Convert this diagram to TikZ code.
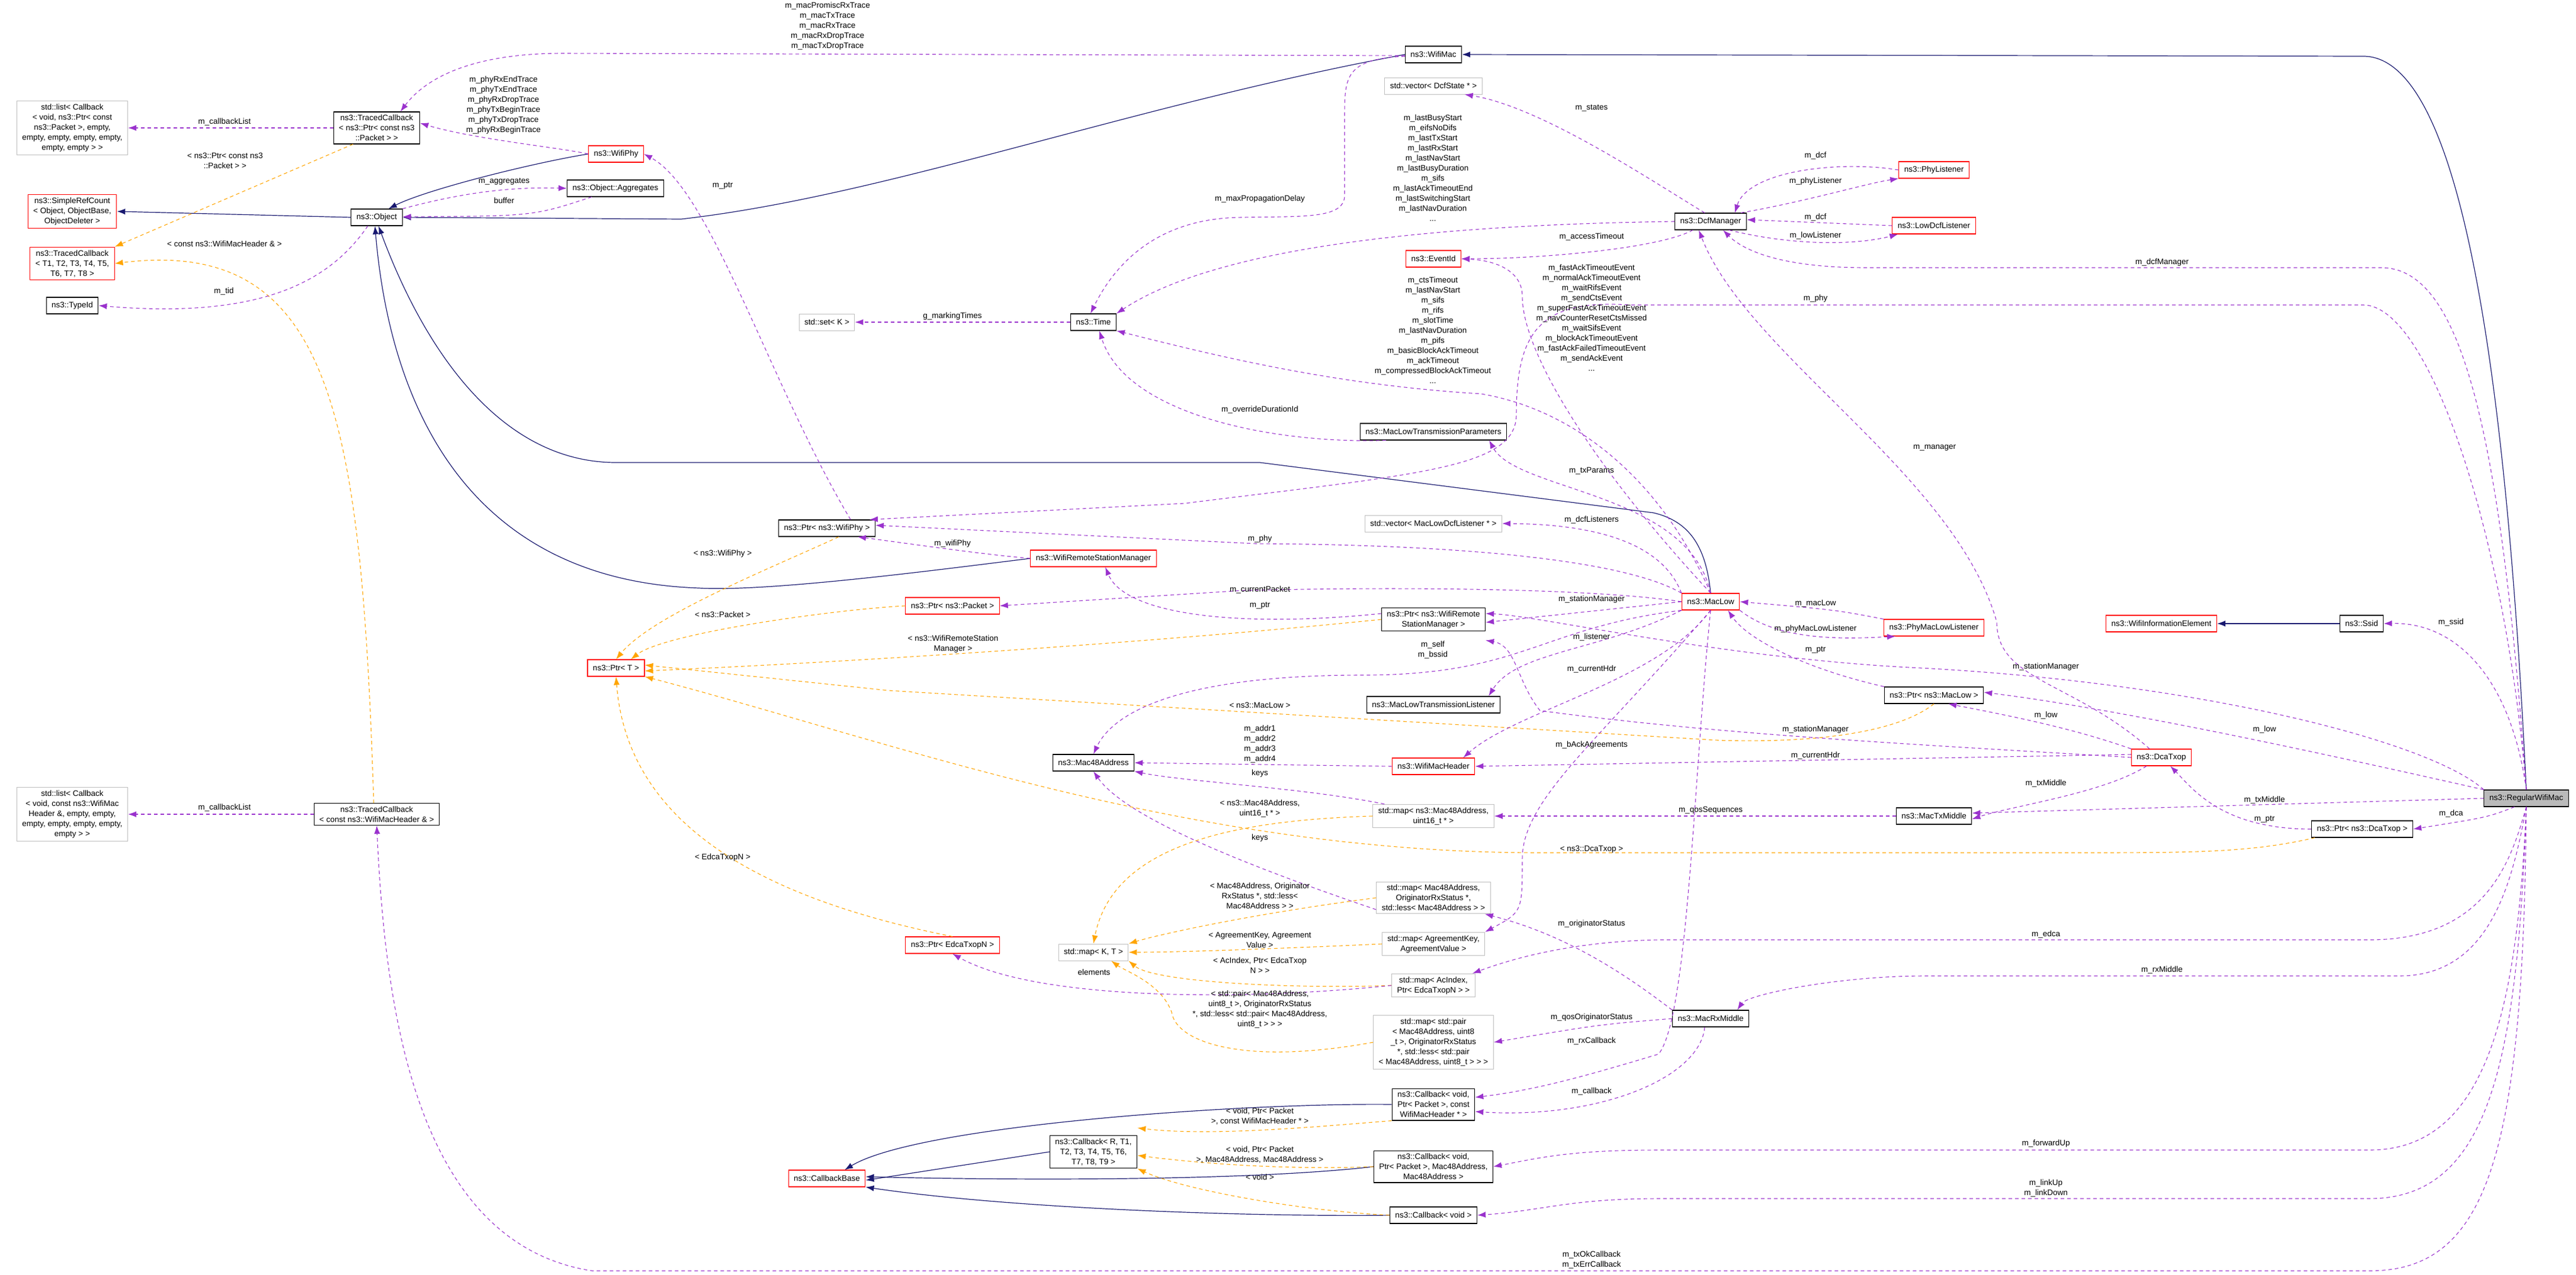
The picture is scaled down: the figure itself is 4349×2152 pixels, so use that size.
\documentclass[tikz,border=0pt]{standalone}
\usepackage{fontspec}
\setmainfont{Liberation Sans}
\usetikzlibrary{arrows.meta}
\definecolor{pur}{HTML}{9A32CD}
\definecolor{nav}{HTML}{191970}
\definecolor{org}{HTML}{FFA500}
\begin{document}
\begin{tikzpicture}[x=1pt,y=-1pt,
 every node/.style={font=\fontsize{13.5}{17}\selectfont},
 box/.style={draw,fill=white,align=center,inner xsep=9pt,inner ysep=5pt,minimum height=28pt,line width=1.1pt},
 bk/.style={box,draw=black},
 rd/.style={box,draw=red},
 gy/.style={box,draw=black!25,line width=1pt},
 lbl/.style={align=center,inner sep=1pt},
 inh/.style={draw=nav,line width=1.2pt,-{Latex[length=14pt,width=10pt]}},
 use/.style={draw=pur,line width=1.1pt,dash pattern=on 6pt off 5pt,-{Latex[length=14pt,width=10pt]}},
 tmpl/.style={draw=org,line width=1.1pt,dash pattern=on 6pt off 5pt,-{Latex[length=14pt,width=10pt]}}]
\useasboundingbox[fill=white] (0,0) rectangle (4349,2152);
% nodes
\node[gy] (listTop) at (122,216) {std::list< Callback\\< void, ns3::Ptr< const\\ ns3::Packet >, empty,\\ empty, empty, empty, empty,\\ empty, empty > >};
\node[bk] (tcPkt) at (636,216) {ns3::TracedCallback\\< ns3::Ptr< const ns3\\::Packet > >};
\node[rd] (wifiPhy) at (1040,260) {ns3::WifiPhy};
\node[bk] (aggregates) at (1039,318) {ns3::Object::Aggregates};
\node[rd] (simpleRef) at (122,357) {ns3::SimpleRefCount\\< Object, ObjectBase,\\ ObjectDeleter >};
\node[bk] (object) at (636,367) {ns3::Object};
\node[rd] (tcT) at (122,445) {ns3::TracedCallback\\< T1, T2, T3, T4, T5,\\ T6, T7, T8 >};
\node[bk] (typeId) at (122,516) {ns3::TypeId};
\node[gy] (setK) at (1396,544) {std::set< K >};
\node[bk] (ptrWifiPhy) at (1396,892) {ns3::Ptr< ns3::WifiPhy >};
\node[rd] (ptrT) at (1040,1128) {ns3::Ptr< T >};
\node[gy] (listBot) at (122,1375) {std::list< Callback\\< void, const ns3::WifiMac\\Header \&, empty, empty,\\ empty, empty, empty, empty,\\ empty > >};
\node[bk] (tcHdr) at (636,1375) {ns3::TracedCallback\\< const ns3::WifiMacHeader \& >};
\node[rd] (callbackBase) at (1396,1990) {ns3::CallbackBase};
\node[bk] (wifiMac) at (2420,92) {ns3::WifiMac};
\node[gy] (vecDcfState) at (2420,145) {std::vector< DcfState * >};
\node[bk] (dcfManager) at (2888,374) {ns3::DcfManager};
\node[rd] (eventId) at (2420,437) {ns3::EventId};
\node[bk] (time) at (1846,544) {ns3::Time};
\node[bk] (macLowTxParams) at (2420,729) {ns3::MacLowTransmissionParameters};
\node[gy] (vecListener) at (2420,884) {std::vector< MacLowDcfListener * >};
\node[rd] (wifiRSM) at (1846,943) {ns3::WifiRemoteStationManager};
\node[rd] (ptrPacket) at (1608,1023) {ns3::Ptr< ns3::Packet >};
\node[rd] (macLow) at (2888,1016) {ns3::MacLow};
\node[bk] (ptrRSM) at (2420,1046) {ns3::Ptr< ns3::WifiRemote\\StationManager >};
\node[bk] (macLowTxListener) at (2420,1190) {ns3::MacLowTransmissionListener};
\node[bk] (mac48) at (1846,1288) {ns3::Mac48Address};
\node[rd] (wifiMacHeader) at (2420,1294) {ns3::WifiMacHeader};
\node[gy] (mapMacU16) at (2420,1378) {std::map< ns3::Mac48Address,\\uint16\_t * >};
\node[gy] (mapMacOrig) at (2420,1516) {std::map< Mac48Address,\\OriginatorRxStatus *,\\std::less< Mac48Address > >};
\node[rd] (ptrEdca) at (1608,1596) {ns3::Ptr< EdcaTxopN >};
\node[gy] (mapKT) at (1846,1608) {std::map< K, T >};
\node[gy] (mapAgree) at (2420,1594) {std::map< AgreementKey,\\AgreementValue >};
\node[gy] (mapAc) at (2420,1664) {std::map< AcIndex,\\Ptr< EdcaTxopN > >};
\node[gy] (mapPair) at (2420,1760) {std::map< std::pair\\< Mac48Address, uint8\\\_t >, OriginatorRxStatus\\ *, std::less< std::pair\\< Mac48Address, uint8\_t > > >};
\node[bk] (macRxMiddle) at (2888,1720) {ns3::MacRxMiddle};
\node[bk] (cbHdr) at (2420,1865) {ns3::Callback< void,\\Ptr< Packet >, const\\WifiMacHeader * >};
\node[bk] (cbT) at (1846,1945) {ns3::Callback< R, T1,\\T2, T3, T4, T5, T6,\\T7, T8, T9 >};
\node[bk] (cbMac) at (2420,1970) {ns3::Callback< void,\\Ptr< Packet >, Mac48Address,\\Mac48Address >};
\node[bk] (cbVoid) at (2420,2052) {ns3::Callback< void >};
\node[rd] (phyListener) at (3265,287) {ns3::PhyListener};
\node[rd] (lowDcf) at (3265,381) {ns3::LowDcfListener};
\node[rd] (phyMacLowListener) at (3265,1060) {ns3::PhyMacLowListener};
\node[rd] (wifiInfo) at (3649,1053) {ns3::WifiInformationElement};
\node[bk] (ssid) at (3987,1053) {ns3::Ssid};
\node[bk] (ptrMacLow) at (3265,1174) {ns3::Ptr< ns3::MacLow >};
\node[rd] (dcaTxop) at (3649,1279) {ns3::DcaTxop};
\node[bk] (macTxMiddle) at (3265,1378) {ns3::MacTxMiddle};
\node[bk,fill=black!27] (regWifiMac) at (4265,1348) {ns3::RegularWifiMac};
\node[bk] (ptrDcaTxop) at (3988,1400) {ns3::Ptr< ns3::DcaTxop >};
% inheritance
\draw[inh] (wifiPhy.west) .. controls (900,275) and (720,320) .. ([xshift=20pt]object.north);
\draw[inh] (wifiMac.west) .. controls (1900,180) and (1500,330) .. (1150,370) -- (object.east);
\draw[inh] (regWifiMac.north) .. controls (4230,600) and (4150,95) .. (3990,95) -- (wifiMac.east);
\draw[inh] (macLow.north) .. controls (2880,920) and (2850,880) .. (2792,866) -- (2127,781) -- (1040,781) .. controls (850,781) and (720,600) .. ([xshift=3pt]object.south);
\draw[inh] (wifiRSM.west) .. controls (1600,960) and (1300,1000) .. (1180,993) .. controls (800,980) and (660,700) .. ([xshift=-3pt]object.south);
\draw[inh] (object.west) -- (simpleRef.east);
\draw[inh] (ssid.west) -- (wifiInfo.east);
\draw[inh] (cbHdr.west) .. controls (2100,1862) and (1550,1900) .. ([xshift=30pt]callbackBase.north);
\draw[inh] (cbT.west) -- ([yshift=-3pt]callbackBase.east);
\draw[inh] (cbMac.west) .. controls (2100,1995) and (1700,1993) .. ([yshift=3pt]callbackBase.east);
\draw[inh] (cbVoid.west) .. controls (2100,2055) and (1700,2040) .. (callbackBase.south east);
% templates
\draw[tmpl] ([xshift=-40pt]tcPkt.south) -- (tcT.north east);
\draw[tmpl] ([xshift=-5pt]tcHdr.north) .. controls (610,700) and (560,400) .. (tcT.east);
\draw[tmpl] ([xshift=20pt]ptrWifiPhy.south) .. controls (1300,960) and (1100,1040) .. (ptrT.north);
\draw[tmpl] (ptrPacket.west) .. controls (1400,1030) and (1120,1070) .. ([xshift=25pt]ptrT.north);
\draw[tmpl] (ptrRSM.west) .. controls (2000,1080) and (1500,1115) .. ([yshift=-5pt]ptrT.east);
\draw[tmpl] (ptrMacLow.south) .. controls (3200,1240) and (3050,1255) .. (2900,1250) -- (1500,1166) -- ([yshift=5pt]ptrT.east);
\draw[tmpl] ([xshift=-80pt]ptrDcaTxop.south) .. controls (3800,1440) and (3700,1440) .. (3500,1440) -- (2600,1440) .. controls (2000,1440) and (1500,1250) .. (ptrT.south east);
\draw[tmpl] (ptrEdca.north) .. controls (1300,1520) and (1060,1400) .. (ptrT.south);
\draw[tmpl] (mapMacU16.west) .. controls (2100,1385) and (1880,1420) .. (mapKT.north);
\draw[tmpl] (mapMacOrig.west) .. controls (2100,1545) and (1950,1580) .. (mapKT.north east);
\draw[tmpl] (mapAgree.west) .. controls (2200,1600) and (2000,1608) .. (mapKT.east);
\draw[tmpl] (mapAc.west) .. controls (2200,1670) and (1950,1660) .. (mapKT.south east);
\draw[tmpl] (mapPair.west) .. controls (2100,1800) and (1985,1760) .. (1978,1709) .. controls (1960,1660) and (1900,1640) .. ([xshift=30pt]mapKT.south);
\draw[tmpl] (cbHdr.south west) .. controls (2250,1900) and (2050,1920) .. ([yshift=12pt]cbT.north east);
\draw[tmpl] (cbMac.west) .. controls (2200,1975) and (2050,1968) .. ([yshift=-6pt]cbT.east);
\draw[tmpl] (cbVoid.west) .. controls (2200,2045) and (2000,2010) .. (cbT.south east);
% usage
\draw[use] (tcPkt.west) -- (listTop.east);
\draw[use] (tcHdr.west) -- (listBot.east);
\draw[use] (wifiPhy.west) .. controls (950,250) and (800,235) .. ([yshift=8pt]tcPkt.east);
\draw[use] ([yshift=-2pt]wifiMac.west) -- (950,90) .. controls (800,90) and (720,130) .. ([xshift=40pt]tcPkt.north);
\draw[use] (object.north east) .. controls (800,320) and (880,316) .. (aggregates.west);
\draw[use] ([xshift=-40pt]aggregates.south) .. controls (900,365) .. ([yshift=1pt]object.east);
\draw[use] ([xshift=-15pt]object.south) .. controls (560,470) and (450,540) .. (typeId.east);
\draw[use] ([yshift=-3pt]wifiMac.west) .. controls (2270,100) and (2270,130) .. (2270,200) -- (2270,330) .. controls (2270,370) and (2200,365) .. (2100,367) .. controls (1950,367) and (1880,450) .. ([xshift=-5pt]time.north);
\draw[use] (dcfManager.west) .. controls (2400,380) and (2050,420) .. (time.north east);
\draw[use] ([xshift=-10pt]dcfManager.north) .. controls (2780,300) and (2600,180) .. ([xshift=-30pt]vecDcfState.south east);
\draw[use] ([xshift=-30pt]dcfManager.south) .. controls (2800,420) and (2600,437) .. (eventId.east);
\draw[use] (macLow.north) .. controls (2700,800) and (2570,600) .. (2570,500) .. controls (2570,460) and (2530,440) .. (eventId.east);
\draw[use] (macLow.north) .. controls (2800,800) and (2650,690) .. (2500,665) .. controls (2250,650) and (2050,600) .. (time.south east);
\draw[use] ([xshift=-80pt]macLowTxParams.south) .. controls (2150,750) and (1900,700) .. ([xshift=10pt]time.south);
\draw[use] (time.west) -- (setK.east);
\draw[use] (macLow.north) .. controls (2850,830) and (2560,830) .. ([xshift=-30pt]macLowTxParams.south east);
\draw[use] (macLow.north west) .. controls (2800,900) and (2650,885) .. (vecListener.east);
\draw[use] (macLow.north west) .. controls (2750,950) and (2500,920) .. (2120,918) -- ([yshift=5pt]ptrWifiPhy.east);
\draw[use] (wifiRSM.west) .. controls (1650,935) and (1550,920) .. ([xshift=-30pt]ptrWifiPhy.south east);
\draw[use] ([xshift=40pt]ptrWifiPhy.north) .. controls (1300,650) and (1200,320) .. (wifiPhy.east);
\draw[use] (macLow.west) .. controls (2700,995) and (2400,990) .. (2100,997) -- (ptrPacket.east);
\draw[use] ([yshift=10pt]ptrRSM.west) .. controls (2100,1060) and (1900,1040) .. ([xshift=20pt]wifiRSM.south);
\draw[use] (macLow.west) -- ([yshift=-5pt]ptrRSM.east);
\draw[use] (macLow.south west) .. controls (2600,1060) and (2570,1140) .. (2300,1140) .. controls (2000,1140) and (1880,1200) .. (mac48.north);
\draw[use] (macLow.south west) .. controls (2700,1100) and (2560,1100) .. ([xshift=-20pt]macLowTxListener.north east);
\draw[use] (macLow.south) .. controls (2800,1150) and (2560,1200) .. ([xshift=-20pt]wifiMacHeader.north east);
\draw[use] (wifiMacHeader.west) -- (mac48.east);
\draw[use] ([xshift=20pt]mapMacU16.north west) .. controls (2200,1330) and (2000,1320) .. (mac48.south east);
\draw[use] ([yshift=-20pt]mapMacOrig.west) .. controls (2100,1460) and (1900,1380) .. (mac48.south);
\draw[use] (mapAc.west) .. controls (2100,1690) and (1750,1690) .. (ptrEdca.south);
\draw[use] (macLow.south) .. controls (2700,1250) and (2570,1350) .. (2570,1450) .. controls (2570,1540) .. (mapAgree.north east);
\draw[use] (macTxMiddle.west) -- (mapMacU16.east);
\draw[use] (macRxMiddle.north west) .. controls (2750,1650) and (2650,1580) .. ([xshift=-10pt]mapMacOrig.south east);
\draw[use] (macRxMiddle.west) .. controls (2700,1730) .. (mapPair.east);
\draw[use] (macLow.south) .. controls (2860,1300) and (2850,1720) .. (2800,1780) .. controls (2700,1810) and (2600,1840) .. ([yshift=12pt]cbHdr.east);
\draw[use] ([xshift=-10pt]macRxMiddle.south) .. controls (2870,1820) and (2700,1890) .. ([yshift=-12pt]cbHdr.east);
\draw[use] (phyListener.west) .. controls (3100,270) and (2950,290) .. ([xshift=-20pt]dcfManager.north east);
\draw[use] ([xshift=-10pt]dcfManager.north east) .. controls (3050,340) and (3150,310) .. (phyListener.south west);
\draw[use] (lowDcf.west) -- ([yshift=3pt]dcfManager.east);
\draw[use] ([xshift=-30pt]dcfManager.south east) .. controls (3050,420) and (3150,410) .. ([xshift=10pt]lowDcf.south west);
\draw[use] (regWifiMac.north) .. controls (4220,700) and (4150,452) .. (4020,452) -- (3150,452) .. controls (3000,452) and (2940,420) .. ([xshift=-40pt]dcfManager.south east);
\draw[use] (regWifiMac.north) .. controls (4230,900) and (4100,515) .. (3990,515) -- (2750,515) .. controls (2600,505) and (2560,560) .. (2560,700) .. controls (2560,790) and (2400,800) .. (2000,850) -- ([xshift=-10pt]ptrWifiPhy.north east);
\draw[use] ([xshift=-20pt]dcaTxop.north) .. controls (3500,1150) and (3371,1150) .. (3371,1050) .. controls (3300,800) and (2950,600) .. ([xshift=-20pt]dcfManager.south);
\draw[use] (phyMacLowListener.north west) .. controls (3100,1030) .. (macLow.east);
\draw[use] (macLow.south east) .. controls (3000,1080) and (3100,1080) .. ([xshift=20pt]phyMacLowListener.south west);
\draw[use] (ptrMacLow.north west) .. controls (3050,1130) and (2950,1080) .. ([xshift=-20pt]macLow.south east);
\draw[use] (regWifiMac.north west) .. controls (4100,1250) and (3700,1150) .. (3223,1127) .. controls (2900,1110) and (2600,1040) .. ([yshift=10pt]ptrRSM.east);
\draw[use] (dcaTxop.west) .. controls (3200,1255) and (2900,1240) .. (2600,1200) .. controls (2560,1150) and (2560,1090) .. ([yshift=-15pt]ptrRSM.south east);
\draw[use] ([yshift=5pt]dcaTxop.west) -- (wifiMacHeader.east);
\draw[use] (dcaTxop.north west) .. controls (3500,1230) and (3400,1210) .. ([xshift=-60pt]ptrMacLow.south east);
\draw[use] (regWifiMac.north west) .. controls (4000,1290) and (3600,1200) .. ([yshift=5pt]ptrMacLow.east);
\draw[use] ([xshift=-25pt]dcaTxop.south) .. controls (3550,1340) and (3400,1360) .. ([yshift=-5pt]macTxMiddle.east);
\draw[use] (regWifiMac.west) -- ([yshift=5pt]macTxMiddle.east);
\draw[use] (ptrDcaTxop.west) .. controls (3750,1400) and (3700,1330) .. ([xshift=15pt]dcaTxop.south);
\draw[use] ([xshift=-20pt]regWifiMac.south) .. controls (4200,1380) .. (ptrDcaTxop.east);
\draw[use] (regWifiMac.north) .. controls (4240,1150) and (4150,1050) .. (ssid.east);
\draw[use] (regWifiMac.south) .. controls (4240,1450) and (4200,1587) .. (4000,1587) -- (2800,1587) .. controls (2650,1590) and (2550,1620) .. ([xshift=-5pt]mapAc.north east);
\draw[use] (regWifiMac.south) .. controls (4240,1500) and (4200,1648) .. (4050,1648) -- (3250,1648) .. controls (3100,1648) and (2950,1680) .. ([xshift=-20pt]macRxMiddle.north east);
\draw[use] (regWifiMac.south) .. controls (4250,1700) and (4200,1942) .. (4000,1942) -- (2800,1942) .. controls (2650,1942) and (2600,1955) .. (cbMac.east);
\draw[use] (regWifiMac.south) .. controls (4250,1800) and (4200,2024) .. (4000,2024) -- (2800,2024) .. controls (2650,2024) and (2600,2045) .. (cbVoid.east);
\draw[use] (regWifiMac.south) .. controls (4260,1950) and (4200,2146) .. (4000,2146) -- (1000,2146) .. controls (700,2100) and (650,1700) .. (tcHdr.south);
% labels
\node[lbl] (l1) at (379,206) {m\_callbackList};
\node[lbl] (l2) at (379,1364) {m\_callbackList};
\node[lbl] (l3) at (850,178) {m\_phyRxEndTrace\\m\_phyTxEndTrace\\m\_phyRxDropTrace\\m\_phyTxBeginTrace\\m\_phyTxDropTrace\\m\_phyRxBeginTrace};
\node[lbl] (l4) at (1397,44) {m\_macPromiscRxTrace\\m\_macTxTrace\\m\_macRxTrace\\m\_macRxDropTrace\\m\_macTxDropTrace};
\node[lbl] (l5) at (851,307) {m\_aggregates};
\node[lbl] (l6) at (851,339) {buffer};
\node[lbl] (l7) at (378,492) {m\_tid};
\node[lbl] (l8) at (380,271) {< ns3::Ptr< const ns3\\::Packet > >};
\node[lbl] (l9) at (379,412) {< const ns3::WifiMacHeader \& >};
\node[lbl] (l10) at (1220,314) {m\_ptr};
\node[lbl] (l11) at (1220,935) {< ns3::WifiPhy >};
\node[lbl] (l12) at (1220,1038) {< ns3::Packet >};
\node[lbl] (l13) at (1609,1087) {< ns3::WifiRemoteStation\\Manager >};
\node[lbl] (l14) at (1220,1448) {< EdcaTxopN >};
\node[lbl] (l15) at (2127,336) {m\_maxPropagationDelay};
\node[lbl] (l16) at (2419,284) {m\_lastBusyStart\\m\_eifsNoDifs\\m\_lastTxStart\\m\_lastRxStart\\m\_lastNavStart\\m\_lastBusyDuration\\m\_sifs\\m\_lastAckTimeoutEnd\\m\_lastSwitchingStart\\m\_lastNavDuration\\...};
\node[lbl] (l17) at (2687,182) {m\_states};
\node[lbl] (l18) at (2687,400) {m\_accessTimeout};
\node[lbl] (l19) at (2687,537) {m\_fastAckTimeoutEvent\\m\_normalAckTimeoutEvent\\m\_waitRifsEvent\\m\_sendCtsEvent\\m\_superFastAckTimeoutEvent\\m\_navCounterResetCtsMissed\\m\_waitSifsEvent\\m\_blockAckTimeoutEvent\\m\_fastAckFailedTimeoutEvent\\m\_sendAckEvent\\...};
\node[lbl] (l20) at (2419,558) {m\_ctsTimeout\\m\_lastNavStart\\m\_sifs\\m\_rifs\\m\_slotTime\\m\_lastNavDuration\\m\_pifs\\m\_basicBlockAckTimeout\\m\_ackTimeout\\m\_compressedBlockAckTimeout\\...};
\node[lbl] (l21) at (2127,692) {m\_overrideDurationId};
\node[lbl] (l22) at (1608,534) {g\_markingTimes};
\node[lbl] (l23) at (2687,795) {m\_txParams};
\node[lbl] (l24) at (2687,878) {m\_dcfListeners};
\node[lbl] (l25) at (2127,910) {m\_phy};
\node[lbl] (l26) at (1608,918) {m\_wifiPhy};
\node[lbl] (l27) at (2127,996) {m\_currentPacket};
\node[lbl] (l28) at (2127,1023) {m\_ptr};
\node[lbl] (l29) at (2687,1012) {m\_stationManager};
\node[lbl] (l30) at (2419,1097) {m\_self\\m\_bssid};
\node[lbl] (l31) at (2687,1076) {m\_listener};
\node[lbl] (l32) at (2687,1130) {m\_currentHdr};
\node[lbl] (l33) at (2127,1256) {m\_addr1\\m\_addr2\\m\_addr3\\m\_addr4};
\node[lbl] (l34) at (2127,1306) {keys};
\node[lbl] (l35) at (2127,1415) {keys};
\node[lbl] (l36) at (1847,1642) {elements};
\node[lbl] (l37) at (2687,1258) {m\_bAckAgreements};
\node[lbl] (l38) at (2888,1368) {m\_qosSequences};
\node[lbl] (l39) at (2687,1560) {m\_originatorStatus};
\node[lbl] (l40) at (2687,1718) {m\_qosOriginatorStatus};
\node[lbl] (l41) at (2687,1758) {m\_rxCallback};
\node[lbl] (l42) at (2687,1843) {m\_callback};
\node[lbl] (l43) at (2127,1191) {< ns3::MacLow >};
\node[lbl] (l44) at (2687,1434) {< ns3::DcaTxop >};
\node[lbl] (l45) at (2127,1365) {< ns3::Mac48Address,\\uint16\_t * >};
\node[lbl] (l46) at (2127,1513) {< Mac48Address, Originator\\RxStatus *, std::less<\\Mac48Address > >};
\node[lbl] (l47) at (2127,1587) {< AgreementKey, Agreement\\Value >};
\node[lbl] (l48) at (2127,1630) {< AcIndex, Ptr< EdcaTxop\\N > >};
\node[lbl] (l49) at (2127,1704) {< std::pair< Mac48Address,\\uint8\_t >, OriginatorRxStatus\\*, std::less< std::pair< Mac48Address,\\uint8\_t > > >};
\node[lbl] (l50) at (2127,1885) {< void, Ptr< Packet\\>, const WifiMacHeader * >};
\node[lbl] (l51) at (2127,1950) {< void, Ptr< Packet\\>, Mac48Address, Mac48Address >};
\node[lbl] (l52) at (2127,1988) {< void >};
\node[lbl] (l53) at (3065,263) {m\_dcf};
\node[lbl] (l54) at (3065,306) {m\_phyListener};
\node[lbl] (l55) at (3065,367) {m\_dcf};
\node[lbl] (l56) at (3065,398) {m\_lowListener};
\node[lbl] (l57) at (3650,443) {m\_dcfManager};
\node[lbl] (l58) at (3065,504) {m\_phy};
\node[lbl] (l59) at (3266,756) {m\_manager};
\node[lbl] (l60) at (3065,1019) {m\_macLow};
\node[lbl] (l61) at (3065,1062) {m\_phyMacLowListener};
\node[lbl] (l62) at (3065,1098) {m\_ptr};
\node[lbl] (l63) at (3454,1126) {m\_stationManager};
\node[lbl] (l64) at (3065,1232) {m\_stationManager};
\node[lbl] (l65) at (3065,1276) {m\_currentHdr};
\node[lbl] (l66) at (3454,1208) {m\_low};
\node[lbl] (l67) at (3823,1232) {m\_low};
\node[lbl] (l68) at (3454,1323) {m\_txMiddle};
\node[lbl] (l69) at (3823,1351) {m\_txMiddle};
\node[lbl] (l70) at (3823,1384) {m\_ptr};
\node[lbl] (l71) at (4138,1374) {m\_dca};
\node[lbl] (l72) at (4138,1051) {m\_ssid};
\node[lbl] (l73) at (3454,1578) {m\_edca};
\node[lbl] (l74) at (3650,1638) {m\_rxMiddle};
\node[lbl] (l75) at (3454,1931) {m\_forwardUp};
\node[lbl] (l76) at (3454,2006) {m\_linkUp\\m\_linkDown};
\node[lbl] (l77) at (2687,2127) {m\_txOkCallback\\m\_txErrCallback};
\end{tikzpicture}
\end{document}
